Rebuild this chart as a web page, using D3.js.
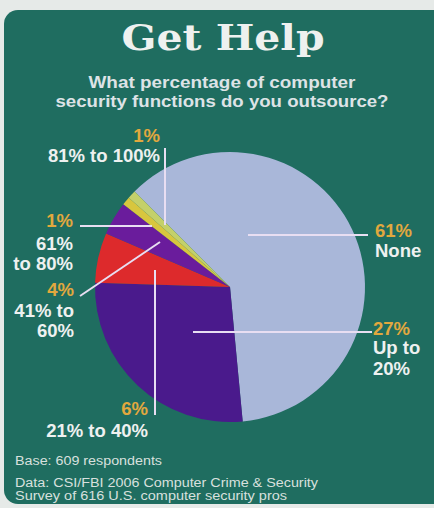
<!DOCTYPE html>
<html><head><meta charset="utf-8">
<script src="https://cdn.jsdelivr.net/npm/d3@7"></script>
<style>
html,body{margin:0;padding:0;background:#e6eae8;}
svg{display:block;}
</style></head>
<body>
<svg id="chart" width="434" height="508"></svg>
<script>
// ---- data ----
const categories = ["None", "Up to 20%", "21% to 40%", "41% to 60%", "61% to 80%", "81% to 100%"];
const values = [61, 27, 6, 4, 1, 1];
const percentLabels = ["61%", "27%", "6%", "4%", "1%", "1%"];
const categoryLines = [["None"], ["Up to", "20%"], ["21% to 40%"], ["41% to", "60%"], ["61%", "to 80%"], ["81% to 100%"]];
const title = "Get Help";
const subtitle = ["What percentage of computer", "security functions do you outsource?"];
const footnotes = ["Base: 609 respondents", "Data: CSI/FBI 2006 Computer Crime & Security", "Survey of 616 U.S. computer security pros"];

// ---- style / layout ----
const colors = ["#a9b7d9", "#4a1a8c", "#dd2a2c", "#6a1c9c", "#d8c63e", "#c4d06a"];
const svg = d3.select("#chart");
const cx = 230, cy = 287, R = 135;

svg.append("rect").attr("x", 4).attr("y", 10).attr("width", 470).attr("height", 494)
  .attr("rx", 14).attr("fill", "#1f6d60");

svg.append("text").attr("x", 223).attr("y", 50).attr("text-anchor", "middle")
  .attr("font-family", "DejaVu Serif").attr("font-weight", "bold").attr("font-size", 35)
  .attr("textLength", 203).attr("lengthAdjust", "spacingAndGlyphs")
  .attr("fill", "#eef1ef").text(title);

const subW = [267, 333];
svg.selectAll("text.sub").data(subtitle).join("text").attr("class", "sub")
  .attr("x", 222).attr("y", (d, i) => 88 + i * 19).attr("text-anchor", "middle")
  .attr("font-family", "Liberation Sans, Arial, sans-serif").attr("font-weight", "bold")
  .attr("font-size", 16.5).attr("textLength", (d, i) => subW[i]).attr("lengthAdjust", "spacingAndGlyphs")
  .attr("fill", "#dde3e6").text(d => d);

// pie
const toRad = Math.PI / 180;
const pie = d3.pie().sort(null).value(d => d)
  .startAngle(-45 * toRad).endAngle(315 * toRad);
const arc = d3.arc().innerRadius(0).outerRadius(R);
const g = svg.append("g").attr("transform", `translate(${cx},${cy})`);
g.selectAll("path").data(pie(values)).join("path")
  .attr("d", arc).attr("fill", (d, i) => colors[i]);

// annotation layout (leader lines & label anchors), in order of categories
const layout = [
  { line: [[248, 235], [368, 235]], x: 375, anchor: "start", y: [237, 257] },
  { line: [[193, 332], [372, 332]], x: 373, anchor: "start", y: [335, 354, 375] },
  { line: [[155, 270], [155, 415]], x: 148, anchor: "end", y: [415, 437] },
  { line: [[160, 242], [80, 296]], x: 74, anchor: "end", y: [296, 317, 337] },
  { line: [[152, 226], [80, 226]], x: 73, anchor: "end", y: [227, 250, 270] },
  { line: [[165, 225], [165, 148]], x: 160, anchor: "end", y: [142, 162] }
];

const font = "Liberation Sans, Arial, sans-serif";
categories.forEach((c, i) => {
  const L = layout[i];
  svg.append("line")
    .attr("x1", L.line[0][0]).attr("y1", L.line[0][1])
    .attr("x2", L.line[1][0]).attr("y2", L.line[1][1])
    .attr("stroke", "#e8def2").attr("stroke-width", 2);
  svg.append("text").attr("x", L.x).attr("y", L.y[0]).attr("text-anchor", L.anchor)
    .attr("font-family", font).attr("font-weight", "bold").attr("font-size", 18.5)
    .attr("fill", "#e2a83e").text(percentLabels[i]);
  categoryLines[i].forEach((t, j) => {
    svg.append("text").attr("x", L.x).attr("y", L.y[j + 1]).attr("text-anchor", L.anchor)
      .attr("font-family", font).attr("font-weight", "bold").attr("font-size", 18.5)
      .attr("fill", "#eef1f0").text(t);
  });
});

const footW = [147, 303, 272];
svg.selectAll("text.foot").data(footnotes).join("text").attr("class", "foot")
  .attr("x", 15).attr("y", (d, i) => [465, 487, 500][i])
  .attr("font-family", font).attr("font-size", 12)
  .attr("textLength", (d, i) => footW[i]).attr("lengthAdjust", "spacingAndGlyphs")
  .attr("fill", "#d8e0de").text(d => d);
</script>
</body></html>
